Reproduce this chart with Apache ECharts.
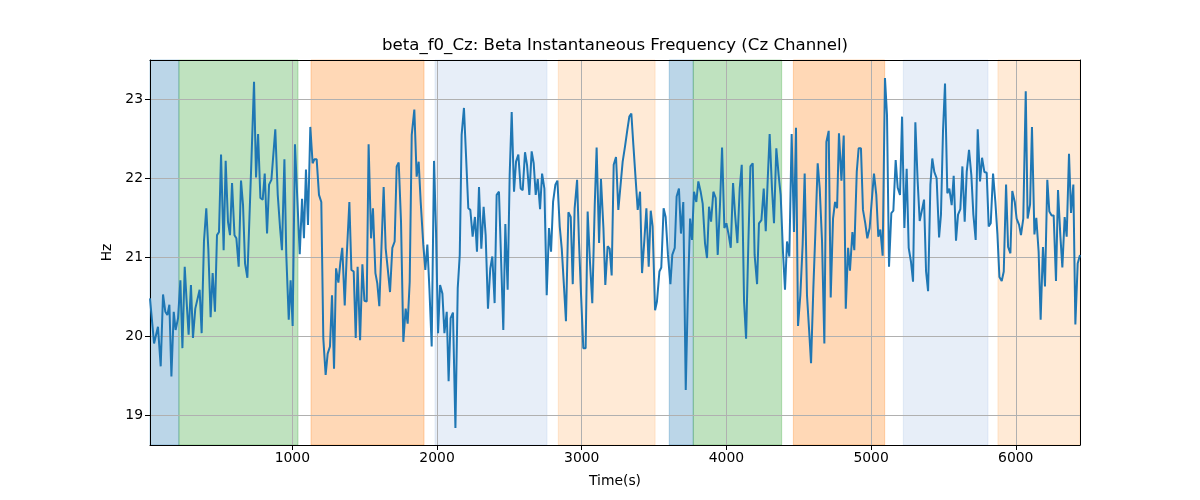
<!DOCTYPE html>
<html><head><meta charset="utf-8">
<script src="https://cdn.jsdelivr.net/npm/echarts@6/dist/echarts.min.js"></script>
<style>html,body{margin:0;padding:0;background:#fff}#c{width:1200px;height:500px}</style>
</head><body><div id="c"></div><script>
// ---- data ----
const chartTitle = 'beta_f0_Cz: Beta Instantaneous Frequency (Cz Channel)';
const xTicks = [1000, 2000, 3000, 4000, 5000, 6000];
const yTicks = [19, 20, 21, 22, 23];
const timeSec = [
16,44,71,90,106,122,136,150,164,180,193,210,226,240,256,272,283,299,313,329,
359,373,389,405,419,435,449,465,479,493,507,525,539,555,569,583,600,613,629,645,
659,673,689,716,735,749,763,779,795,809,825,839,855,882,899,915,928,945,958,975,
988,1002,1018,1034,1051,
1067,1080,1094,1108,1124,1140,1152,1168,1184,1200,1214,1230,1244,1260,1274,1288,1302,1318,1332,1345,
1362,1375,1394,1408,1424,1438,1451,1468,1484,1498,1514,1527,1544,1557,1574,1587,1601,1631,1645,1659,
1675,1691,1707,1721,1735,1751,1767,1783,1797,1811,1825,1843,1859,1873,1887,1905,1919,1933,1947,1963,
1979,1993,2007,2021,2037,2051,2067,2080,2094,2110,2127,
2143,2157,2170,2186,2200,2216,2230,2246,2262,2276,2290,2306,2322,2336,2352,2368,2382,2398,2412,2428,
2458,2472,2488,2502,2516,2532,2546,2562,2578,2592,2608,2622,2638,2654,2668,2682,2696,2712,2726,2742,
2758,2774,2788,2802,2818,2832,2848,2862,2878,2891,2908,2924,2938,2951,2968,2981,2995,3011,3027,3041,
3057,3073,3090,3103,3120,3133,3150,3163,3179,3193,3207,
3221,3237,3253,3283,3299,3315,3329,3343,3357,3373,3387,3403,3417,3433,3447,3463,3477,3490,3507,3520,
3537,3550,3566,3580,3596,3613,3626,3643,3656,3672,3686,3702,3719,3732,3749,3762,3776,3792,3806,3822,
3836,3852,3866,3880,3894,3910,3926,3940,3956,3970,3986,4000,4016,4030,4046,4060,4076,4092,4106,4122,
4136,4152,4166,4182,4195,4212,4225,4242,4258,4272,
4285,4299,4315,4329,4345,4361,4375,4391,4405,4419,4435,4451,4467,4481,4495,4511,4527,4541,4557,4571,
4585,4601,4615,4631,4645,4661,4677,4691,4707,4721,4737,4751,4765,4778,4795,4811,4825,4841,4854,4871,
4884,4901,4914,4930,4944,4960,4974,4990,5004,5020,5036,5050,5064,5080,5096,5110,5124,5140,5154,5170,
5184,5200,5214,5230,5246,5260,5276,5290,5306,5322,5336,5352,5366,
5380,5394,5410,5423,5437,5453,5470,5483,5497,5511,5527,5541,5557,5571,5587,5601,5617,5631,5647,5661,
5677,5693,5707,5723,5737,5753,5767,5783,5799,5813,5827,5843,5859,5873,5887,5903,5917,5933,5947,5963,
5976,5993,6006,6023,6036,6052,6069,6082,6099,6112,6129,6142,6158,6172,6188,6202,6218,6232,6248,6262,
6278,6292,6308,6322,6338,6352,6368,6382,6398,6412,6428,6444
];
const betaHz = [
20.48,19.91,20.12,19.62,20.53,20.31,20.27,20.40,19.49,20.31,20.08,20.23,20.71,19.85,20.88,20.35,20.02,20.65,19.98,20.35,
20.59,20.04,21.20,21.62,21.11,20.24,20.80,20.31,21.28,21.32,22.30,21.09,22.22,21.45,21.28,21.94,21.28,21.24,20.88,21.97,
21.66,20.92,20.74,22.17,23.22,22.01,22.56,21.75,21.73,22.06,21.30,21.92,21.98,22.62,21.79,21.37,21.09,22.24,21.03,20.21,
20.71,20.13,22.43,21.75,21.04,
21.74,21.24,22.11,21.41,22.65,22.19,22.24,22.24,21.79,21.70,19.97,19.51,19.78,19.87,20.52,19.59,20.86,20.68,20.94,21.12,
20.39,20.99,21.70,20.84,20.82,19.98,20.88,19.95,20.91,20.45,20.44,22.43,21.24,21.62,20.80,20.67,20.38,21.89,21.11,20.86,
20.56,21.12,21.20,22.15,22.20,21.45,19.93,20.35,20.16,20.69,22.55,22.87,22.02,22.21,21.70,21.16,20.84,21.16,20.61,19.87,
22.22,21.32,20.04,20.65,20.54,20.04,20.31,19.43,20.23,20.30,18.84,
20.61,21.03,22.55,22.89,22.30,21.62,21.60,21.26,21.51,21.07,21.89,21.11,21.64,21.28,20.35,20.86,21.01,20.42,21.79,21.83,
20.08,21.42,20.59,22.04,22.84,21.83,22.21,22.30,21.87,21.85,22.33,22.17,21.79,22.34,22.19,21.79,21.99,21.61,22.06,21.87,
20.52,21.37,21.07,21.70,21.92,21.97,21.39,21.11,20.61,20.19,21.57,21.51,20.66,21.62,21.98,21.20,20.54,19.85,19.85,21.58,
20.94,20.42,21.66,22.39,21.18,21.99,21.37,20.65,21.14,21.11,20.77,
22.17,22.27,21.60,22.21,22.40,22.61,22.78,22.82,22.42,21.98,21.60,21.83,20.80,21.22,21.62,20.88,21.59,21.39,20.33,20.44,
20.82,20.87,21.62,21.51,21.03,20.66,21.03,21.12,21.77,21.87,21.30,21.70,19.32,20.40,21.49,21.22,21.83,21.70,21.96,21.83,
21.68,21.18,20.99,21.64,21.45,21.83,21.75,21.03,21.68,22.39,21.37,21.43,21.28,21.12,21.94,21.54,21.18,21.87,22.17,20.44,
19.97,21.20,22.15,22.19,21.03,20.66,21.43,21.47,21.87,21.33,
21.96,22.56,21.87,21.43,22.38,22.04,21.79,21.07,20.59,21.20,21.01,22.56,21.32,22.64,20.13,20.52,21.16,22.06,20.52,20.10,
19.66,20.61,21.32,22.19,21.87,21.20,19.91,22.46,22.60,20.49,21.49,21.70,21.62,22.57,21.97,22.54,20.35,21.12,20.83,21.32,
21.09,22.08,22.38,22.38,21.60,21.43,21.24,21.37,21.70,22.06,21.79,21.26,21.35,21.02,23.27,22.80,20.88,21.56,21.59,22.23,
21.88,21.79,22.78,21.37,22.12,21.12,20.94,20.69,22.71,21.96,21.46,21.60,21.73,
20.82,20.57,21.92,22.25,22.08,22.00,21.25,21.54,22.59,23.20,21.81,21.87,21.66,22.03,21.21,21.54,21.61,22.15,21.45,22.08,
22.36,22.04,21.54,21.22,22.62,21.96,22.26,22.08,22.07,21.39,21.43,22.06,21.70,21.30,20.75,20.70,20.82,21.92,21.13,21.05,
21.84,21.70,21.49,21.41,21.28,21.49,23.10,21.49,21.67,22.65,21.29,21.50,21.07,20.21,21.13,20.63,21.98,21.58,21.53,21.53,
20.70,21.85,21.28,20.87,21.51,21.26,22.31,21.56,21.92,20.15,20.92,21.03
];
const bandStart = [16, 216, 1129, 1986, 2838, 3605, 3771, 4463, 5223, 5877];
const bandEnd   = [216, 1039, 1910, 2760, 3507, 3771, 4382, 5094, 5808, 6444];
const bandKind  = ['blue','green','orange','lightblue','lightorange','blue','green','orange','lightblue','lightorange'];
const xRange = [16, 6444];
const yRange = [18.624, 23.497];

// ---- styles ----
const bandColors = {
  blue: 'rgba(31,119,180,0.3)', green: 'rgba(44,160,44,0.3)', orange: 'rgba(255,127,14,0.3)',
  lightblue: 'rgba(174,199,232,0.3)', lightorange: 'rgba(255,187,120,0.3)'
};
const FONT = 'DejaVu Sans';
const FS = 13.9;
const n = Math.min(timeSec.length, betaHz.length);
const lineData = [];
for (let i = 0; i < n; i++) lineData.push([timeSec[i], betaHz[i]]);
const areas = bandStart.map((s, i) => {
  const c = bandColors[bandKind[i]];
  return [{ xAxis: s, itemStyle: { color: c, borderColor: c, borderWidth: 1 } }, { xAxis: bandEnd[i] }];
});

const chart = echarts.init(document.getElementById('c'), null, { renderer: 'canvas' });
const hidden = { show: false };
chart.setOption({
  animation: false,
  backgroundColor: '#ffffff',
  grid: { left: 150, right: 120, top: 60, bottom: 55, containLabel: false },
  graphic: [{
    type: 'text', x: 615, y: 46, z: 10,
    style: { text: chartTitle, font: '16.6px "DejaVu Sans"', fill: '#000', textAlign: 'center', textVerticalAlign: 'middle' }
  }],
  xAxis: [{
    type: 'value', min: xRange[0], max: xRange[1], z: 2,
    name: 'Time(s)', nameLocation: 'middle', nameGap: 29,
    nameTextStyle: { fontFamily: FONT, fontSize: FS, color: '#000' },
    axisLine: { show: true, onZero: false, lineStyle: { color: '#000', width: 1 } },
    axisTick: { show: true, length: 5, inside: false, customValues: xTicks, lineStyle: { color: '#000' } },
    axisLabel: { customValues: xTicks, fontFamily: FONT, fontSize: FS, color: '#000', margin: 6, formatter: v => String(v) },
    splitLine: { show: true, lineStyle: { color: '#b0b0b0', width: 1 } }
  }, {
    type: 'value', position: 'top', min: xRange[0], max: xRange[1], z: 2,
    axisLine: { show: true, onZero: false, lineStyle: { color: '#000', width: 1 } },
    axisTick: hidden, axisLabel: hidden, splitLine: hidden
  }],
  yAxis: [{
    type: 'value', min: yRange[0], max: yRange[1], z: 2,
    name: 'Hz', nameLocation: 'middle', nameGap: 32,
    nameTextStyle: { fontFamily: FONT, fontSize: FS, color: '#000' },
    axisLine: { show: true, onZero: false, lineStyle: { color: '#000', width: 1 } },
    axisTick: { show: true, length: 5, inside: false, customValues: yTicks, lineStyle: { color: '#000' } },
    axisLabel: { customValues: yTicks, fontFamily: FONT, fontSize: FS, color: '#000', margin: 7, formatter: v => String(v) },
    splitLine: { show: true, lineStyle: { color: '#b0b0b0', width: 1 } }
  }, {
    type: 'value', position: 'right', min: yRange[0], max: yRange[1], z: 2,
    axisLine: { show: true, onZero: false, lineStyle: { color: '#000', width: 1 } },
    axisTick: hidden, axisLabel: hidden, splitLine: hidden
  }],
  series: [{
    type: 'line', data: [], z: 1, silent: true,
    markArea: { silent: true, data: areas }
  }, {
    type: 'line', data: lineData, z: 3, showSymbol: false, symbol: 'none', smooth: false,
    lineStyle: { color: '#1f77b4', width: 2 }, itemStyle: { color: '#1f77b4' }
  }]
});
</script></body></html>
